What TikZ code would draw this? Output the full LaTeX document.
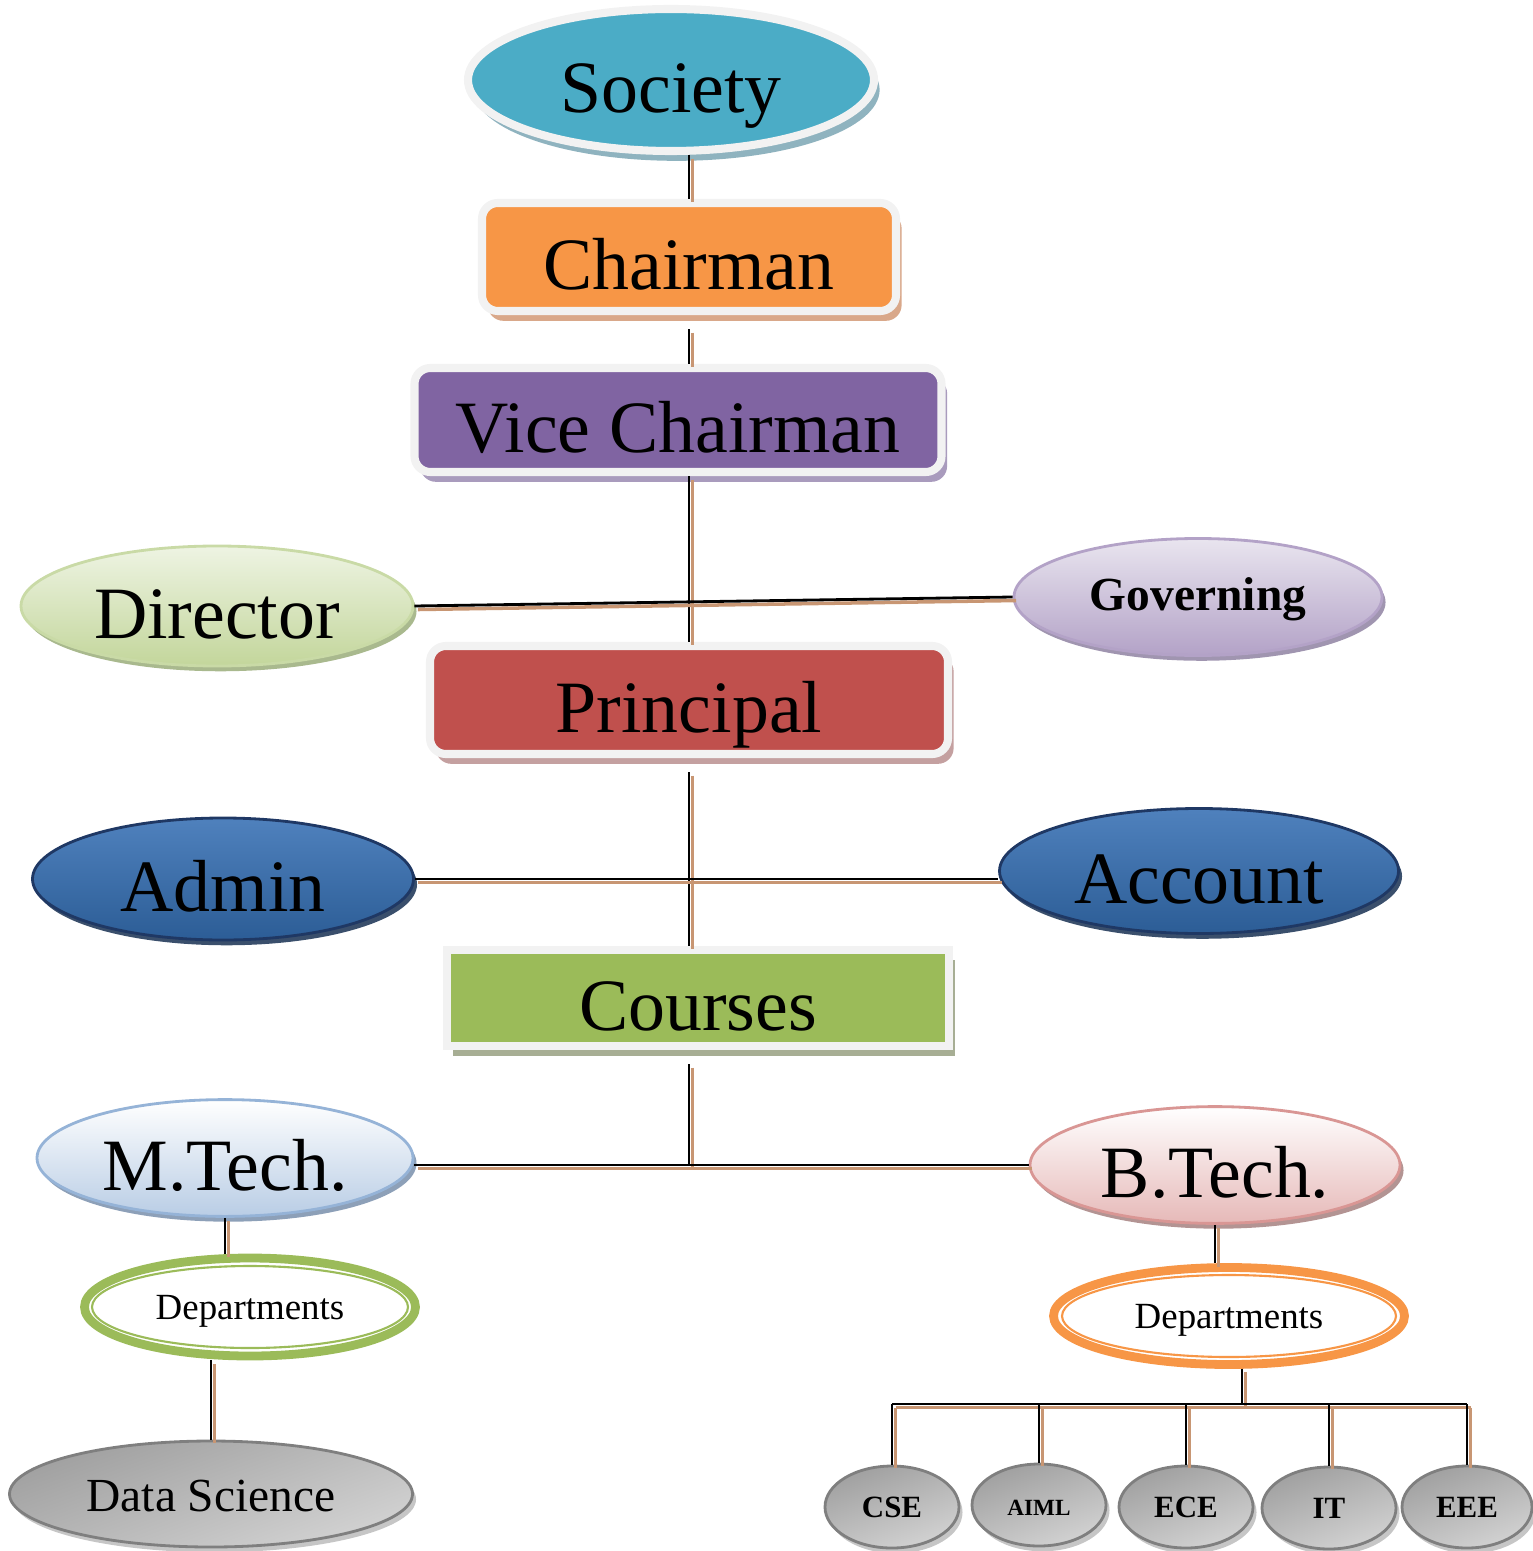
\documentclass[tikz,border=0pt]{standalone}
\usepackage{fontspec}
\setmainfont{Liberation Serif}
\usetikzlibrary{shapes.geometric,shadows}

\definecolor{rimgray}{HTML}{F2F2F2}
\definecolor{linktan}{RGB}{200,150,115}
\definecolor{societyblue}{HTML}{4BACC6}
\definecolor{societyshade}{HTML}{8FB3BF}
\definecolor{chairorange}{HTML}{F79646}
\definecolor{chairshade}{HTML}{D9A88A}
\definecolor{vicepurple}{HTML}{8064A2}
\definecolor{viceshade}{HTML}{A99BBD}
\definecolor{princred}{HTML}{C0504D}
\definecolor{princshade}{HTML}{C4A0A0}
\definecolor{coursegreen}{HTML}{9BBB59}
\definecolor{courseshade}{HTML}{A7AE94}
\definecolor{dirtop}{HTML}{EEF4E3}
\definecolor{dirbottom}{HTML}{C3D69B}
\definecolor{diredge}{HTML}{C9DAA6}
\definecolor{dirshade}{HTML}{A9B98E}
\definecolor{govtop}{HTML}{E9E5EF}
\definecolor{govbottom}{HTML}{B3A2C7}
\definecolor{govshade}{HTML}{A095B0}
\definecolor{admtop}{HTML}{4F81BD}
\definecolor{admbottom}{HTML}{2C5D96}
\definecolor{admedge}{HTML}{1F3864}
\definecolor{admshade}{HTML}{3A4F6C}
\definecolor{mtbottom}{HTML}{B9CDE5}
\definecolor{mtedge}{HTML}{95B3D7}
\definecolor{mtshade}{HTML}{8DA0B8}
\definecolor{btbottom}{HTML}{E6B9B8}
\definecolor{btedge}{HTML}{D99694}
\definecolor{btshade}{HTML}{B39493}
\definecolor{pebbleedge}{HTML}{7F7F7F}

\tikzset{
  rim/.style={draw=rimgray, line width=2.3pt, inner sep=0pt, bigtext},
  box/.style={rim, rectangle, rounded corners=4.5pt},
  lift/.style={drop shadow={shadow xshift=1.6pt, shadow yshift=-2.8pt, fill=#1, opacity=1}},
  soft/.style={drop shadow={shadow xshift=1pt, shadow yshift=-1.5pt, fill=#1, opacity=1}},
  oval/.style={ellipse, inner sep=0pt, line width=0.8pt},
  bigtext/.style={font=\fontsize{21}{25}\selectfont, text height=21pt, text depth=2.5pt},
  stone/.style={oval, draw=pebbleedge, top color=gray!75, bottom color=gray!35, shading angle=20, soft=gray!45},
  pebble/.style={stone, minimum width=1.34cm, minimum height=0.82cm, font=\bfseries\fontsize{8.8}{10}\selectfont,
    text height=7pt, text depth=0.8pt},
  dept/.style={ellipse, inner sep=0pt, fill=white, line width=2.5pt, font=\fontsize{10.5}{12}\selectfont,
    text height=8.5pt, text depth=1.15pt},
  link/.style={line width=0.8pt, preaction={draw=linktan, line width=1pt, transform canvas={shift={(1pt,-1pt)}}}}
}

\begin{document}
\begin{tikzpicture}
\useasboundingbox (0,0) rectangle (15.32,-15.51);

% management
\node[rim, ellipse, fill=societyblue, minimum width=4.06cm, minimum height=1.42cm, lift=societyshade] (society) at (6.71,-0.80) {Society};
\node[box, fill=chairorange, minimum width=4.14cm, minimum height=1.08cm, lift=chairshade] (chair) at (6.89,-2.57) {Chairman};
\node[box, fill=vicepurple, minimum width=5.27cm, minimum height=1.04cm, lift=viceshade] (vice) at (6.78,-4.20) {Vice Chairman};

\node[oval, bigtext, draw=diredge, top color=dirtop, bottom color=dirbottom, minimum width=3.92cm, minimum height=1.20cm, soft=dirshade] (director) at (2.17,-6.06) {Director};
\node[oval, draw=govbottom, top color=govtop, bottom color=govbottom, minimum width=3.68cm, minimum height=1.17cm,
  font=\bfseries\fontsize{13.5}{16}\selectfont, text height=8.6pt, text depth=1pt, soft=govshade] (governing) at (11.98,-5.97) {Governing};

\node[box, fill=princred, minimum width=5.18cm, minimum height=1.08cm, lift=princshade] (principal) at (6.89,-7.00) {Principal};

\node[oval, bigtext, draw=admedge, top color=admtop, bottom color=admbottom, minimum width=3.81cm, minimum height=1.22cm, soft=admshade] (admin) at (2.23,-8.79) {Admin};
\node[oval, bigtext, draw=admedge, top color=admtop, bottom color=admbottom, minimum width=3.99cm, minimum height=1.25cm, soft=admshade] (account) at (11.99,-8.71) {Account};

% academics
\node[rim, rectangle, fill=coursegreen, minimum width=5.02cm, minimum height=0.96cm, lift=courseshade] (courses) at (6.98,-9.98) {Courses};

\node[oval, bigtext, draw=mtedge, top color=white, bottom color=mtbottom, minimum width=3.76cm, minimum height=1.13cm, soft=mtshade] (mtech) at (2.25,-11.58) {M.Tech.};
\node[oval, bigtext, draw=btedge, top color=white, bottom color=btbottom, minimum width=3.70cm, minimum height=1.14cm, soft=btshade] (btech) at (12.15,-11.65) {B.Tech.};

\node[dept, draw=coursegreen, minimum width=3.31cm, minimum height=0.98cm] (deptm) at (2.50,-13.07) {Departments};
\draw[coursegreen, line width=0.6pt] (deptm.center) ellipse [x radius=1.58cm, y radius=0.41cm];
\node[dept, draw=chairorange, minimum width=3.51cm, minimum height=0.97cm] (deptb) at (12.29,-13.16) {Departments};
\draw[chairorange, line width=0.6pt] (deptb.center) ellipse [x radius=1.67cm, y radius=0.41cm];

\node[stone, minimum width=4.03cm, minimum height=1.06cm, font=\fontsize{13.5}{16}\selectfont, text height=11pt, text depth=1.3pt] (ds) at (2.11,-14.94) {Data Science};
\node[pebble] (cse) at (8.92,-15.07) {CSE};
\node[pebble, font=\bfseries\fontsize{6.6}{8}\selectfont] (aiml) at (10.39,-15.05) {AIML};
\node[pebble] (ece) at (11.86,-15.07) {ECE};
\node[pebble] (it) at (13.29,-15.08) {IT};
\node[pebble, minimum width=1.30cm] (eee) at (14.67,-15.07) {EEE};

% connectors
\draw[link] (chair.north |- society.south) -- (chair.north);
\draw[link] ([yshift=-4pt]chair.south) -- (chair.south |- vice.north);
\draw[link] (vice.south -| principal.north) -- (principal.north);
\draw[link] (director.east) -- (governing.west);
\draw[link] ([yshift=-4pt]principal.south) -- (principal.south |- courses.north);
\draw[link] (admin.east) -- (admin.east -| account.west);
\draw[link] ([yshift=-4pt]courses.south -| principal.south) -- (principal.south |- btech.west);
\draw[link] (btech.west -| mtech.east) -- (btech.west);
\draw[link] (mtech.south) -- (mtech.south |- deptm.north);
\draw[link] (ds.north |- deptm.south) -- (ds.north);
\draw[link] (btech.south) -- (btech.south |- deptb.north);
\coordinate (bus) at (12.42,-14.04);
\draw[link] (bus |- deptb.south) -- (bus);
\draw[link] (cse.north |- bus) -- (eee.north |- bus);
\foreach \d in {cse,aiml,ece,it,eee}
  \draw[link] (\d.north |- bus) -- (\d.north);

\end{tikzpicture}
\end{document}
